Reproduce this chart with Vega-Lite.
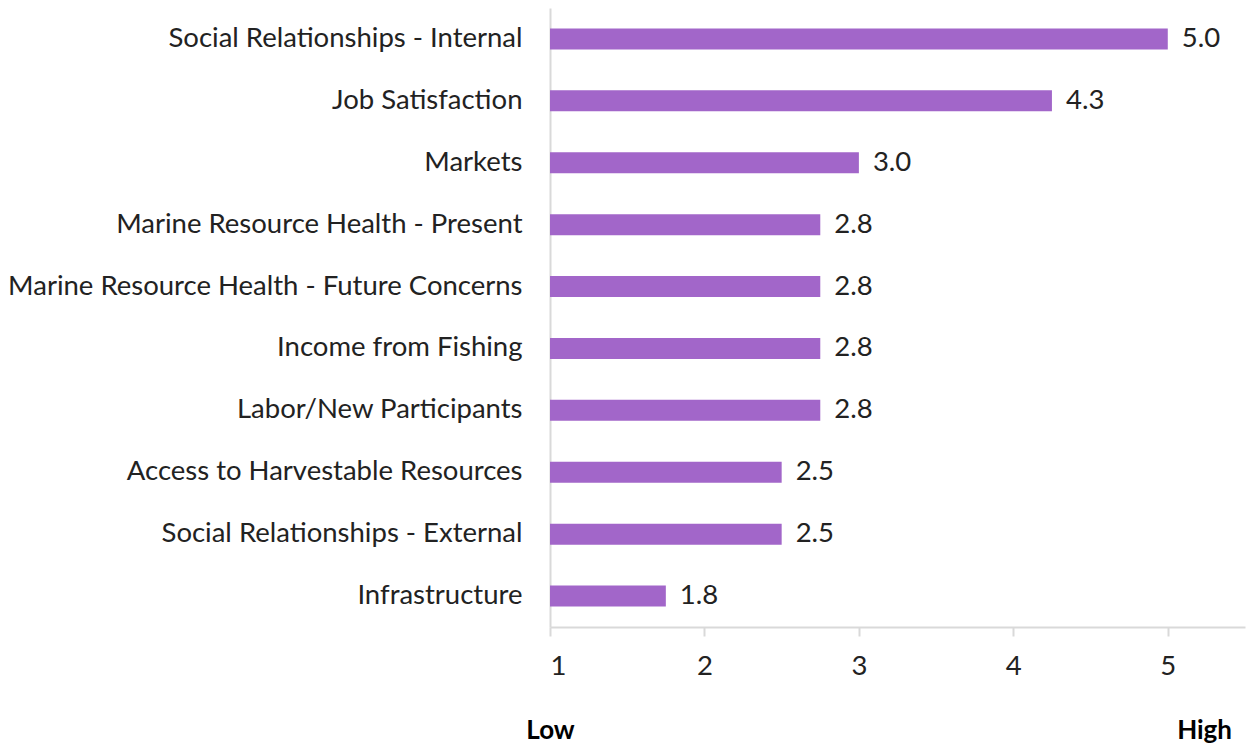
{
  "$schema": "https://vega.github.io/schema/vega-lite/v6.json",
  "autosize": "none",
  "width": 695,
  "height": 619,
  "padding": {"left": 550, "top": 8, "right": 2, "bottom": 117},
  "background": "white",
  "config": {"view": {"stroke": null}, "font": "Lato"},
  "title": {"text": "High", "orient": "bottom", "anchor": "end", "frame": "group", "fontSize": 26, "fontWeight": "bold", "font": "Lato", "color": "#000000", "offset": -25, "dx": -13},
  "data": {"values": [
    {"cat": "Social Relationships - Internal", "v": 5.0},
    {"cat": "Job Satisfaction", "v": 4.25},
    {"cat": "Markets", "v": 3.0},
    {"cat": "Marine Resource Health - Present", "v": 2.75},
    {"cat": "Marine Resource Health - Future Concerns", "v": 2.75},
    {"cat": "Income from Fishing", "v": 2.75},
    {"cat": "Labor/New Participants", "v": 2.75},
    {"cat": "Access to Harvestable Resources", "v": 2.5},
    {"cat": "Social Relationships - External", "v": 2.5},
    {"cat": "Infrastructure", "v": 1.75}
  ]},
  "encoding": {
    "y": {"field": "cat", "type": "nominal", "sort": null,
      "scale": {"paddingInner": 0.66, "paddingOuter": 0.33},
      "axis": {"title": null, "domainColor": "#d9d9d9", "domainWidth": 2, "ticks": false, "labelPadding": 28, "labelFontSize": 27.5, "labelColor": "#222222", "labelFont": "Lato", "labelLimit": 600}}
  },
  "layer": [
    {
      "mark": {"type": "bar", "color": "#a266c9"},
      "encoding": {
        "x": {"field": "v", "type": "quantitative", "scale": {"domain": [1, 5.5], "zero": false},
          "axis": {"values": [1, 2, 3, 4, 5], "format": "d", "grid": false, "domainColor": "#d9d9d9", "domainWidth": 2, "tickColor": "#d9d9d9", "tickWidth": 2, "tickSize": 9, "labelFontSize": 27.5, "labelColor": "#222222", "labelPadding": 16, "labelFont": "Lato",
            "title": "Low", "titleFontSize": 26, "titleFontWeight": "bold", "titleColor": "#000000", "titleAnchor": "start", "titleAlign": "center", "titleBaseline": "middle", "titleX": 0, "titleY": 103, "titleFont": "Lato"}
        },
        "x2": {"datum": 1}
      }
    },
    {
      "mark": {"type": "text", "align": "left", "dx": 14, "fontSize": 27.5, "color": "#222222", "font": "Lato"},
      "encoding": {
        "x": {"field": "v", "type": "quantitative"},
        "text": {"field": "v", "type": "quantitative", "format": ".1f"}
      }
    }
  ]
}
